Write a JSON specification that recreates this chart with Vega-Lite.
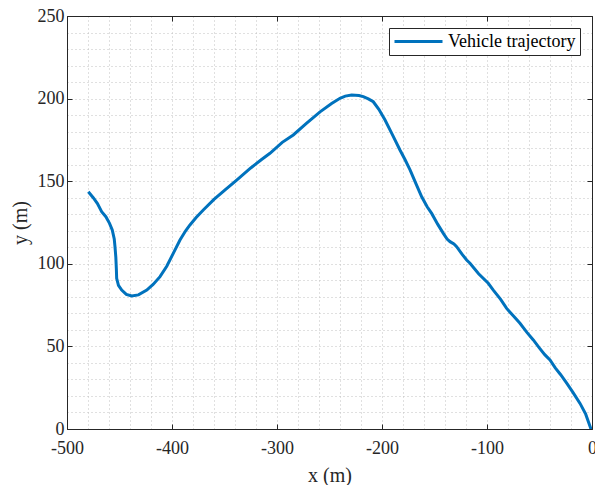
{
  "$schema": "https://vega.github.io/schema/vega-lite/v6.json",
  "width": 525,
  "height": 413,
  "autosize": {"type": "none"},
  "padding": {"left": 67, "top": 16, "right": 3, "bottom": 56},
  "background": "white",
  "config": {"font": "Liberation Serif", "view": {"stroke": null}},
  "data": {"values": [
    {"i":0,"x":-479.7,"y":143.6,"s":"Vehicle trajectory"},
    {"i":1,"x":-475,"y":140,"s":"Vehicle trajectory"},
    {"i":2,"x":-471,"y":136.5,"s":"Vehicle trajectory"},
    {"i":3,"x":-467,"y":131.5,"s":"Vehicle trajectory"},
    {"i":4,"x":-463,"y":128.5,"s":"Vehicle trajectory"},
    {"i":5,"x":-459.5,"y":124.5,"s":"Vehicle trajectory"},
    {"i":6,"x":-456.9,"y":120.5,"s":"Vehicle trajectory"},
    {"i":7,"x":-455,"y":115,"s":"Vehicle trajectory"},
    {"i":8,"x":-454.3,"y":110.4,"s":"Vehicle trajectory"},
    {"i":9,"x":-453.5,"y":104,"s":"Vehicle trajectory"},
    {"i":10,"x":-453,"y":97,"s":"Vehicle trajectory"},
    {"i":11,"x":-452.7,"y":91.2,"s":"Vehicle trajectory"},
    {"i":12,"x":-451,"y":87,"s":"Vehicle trajectory"},
    {"i":13,"x":-447.9,"y":84.1,"s":"Vehicle trajectory"},
    {"i":14,"x":-443.5,"y":81.5,"s":"Vehicle trajectory"},
    {"i":15,"x":-438.4,"y":80.5,"s":"Vehicle trajectory"},
    {"i":16,"x":-432,"y":81.2,"s":"Vehicle trajectory"},
    {"i":17,"x":-424,"y":84.1,"s":"Vehicle trajectory"},
    {"i":18,"x":-418,"y":87.5,"s":"Vehicle trajectory"},
    {"i":19,"x":-411.4,"y":92.2,"s":"Vehicle trajectory"},
    {"i":20,"x":-405,"y":98.5,"s":"Vehicle trajectory"},
    {"i":21,"x":-398.8,"y":106.3,"s":"Vehicle trajectory"},
    {"i":22,"x":-392.4,"y":114.4,"s":"Vehicle trajectory"},
    {"i":23,"x":-387,"y":120,"s":"Vehicle trajectory"},
    {"i":24,"x":-382.9,"y":123.5,"s":"Vehicle trajectory"},
    {"i":25,"x":-377,"y":128,"s":"Vehicle trajectory"},
    {"i":26,"x":-370.2,"y":132.6,"s":"Vehicle trajectory"},
    {"i":27,"x":-360,"y":139,"s":"Vehicle trajectory"},
    {"i":28,"x":-350,"y":144.5,"s":"Vehicle trajectory"},
    {"i":29,"x":-338.4,"y":150.7,"s":"Vehicle trajectory"},
    {"i":30,"x":-325,"y":158,"s":"Vehicle trajectory"},
    {"i":31,"x":-315,"y":163,"s":"Vehicle trajectory"},
    {"i":32,"x":-306.7,"y":166.9,"s":"Vehicle trajectory"},
    {"i":33,"x":-295,"y":173.5,"s":"Vehicle trajectory"},
    {"i":34,"x":-284.5,"y":178,"s":"Vehicle trajectory"},
    {"i":35,"x":-272,"y":185,"s":"Vehicle trajectory"},
    {"i":36,"x":-259,"y":192,"s":"Vehicle trajectory"},
    {"i":37,"x":-248,"y":197,"s":"Vehicle trajectory"},
    {"i":38,"x":-240,"y":200.2,"s":"Vehicle trajectory"},
    {"i":39,"x":-235,"y":201.5,"s":"Vehicle trajectory"},
    {"i":40,"x":-228.9,"y":202.2,"s":"Vehicle trajectory"},
    {"i":41,"x":-222,"y":201.9,"s":"Vehicle trajectory"},
    {"i":42,"x":-217.8,"y":201.2,"s":"Vehicle trajectory"},
    {"i":43,"x":-213,"y":199.8,"s":"Vehicle trajectory"},
    {"i":44,"x":-208.3,"y":198.1,"s":"Vehicle trajectory"},
    {"i":45,"x":-203,"y":193.5,"s":"Vehicle trajectory"},
    {"i":46,"x":-197.1,"y":187,"s":"Vehicle trajectory"},
    {"i":47,"x":-190,"y":178,"s":"Vehicle trajectory"},
    {"i":48,"x":-182.9,"y":168.9,"s":"Vehicle trajectory"},
    {"i":49,"x":-178,"y":163,"s":"Vehicle trajectory"},
    {"i":50,"x":-173.3,"y":156.8,"s":"Vehicle trajectory"},
    {"i":51,"x":-168,"y":149,"s":"Vehicle trajectory"},
    {"i":52,"x":-162.2,"y":140.6,"s":"Vehicle trajectory"},
    {"i":53,"x":-157,"y":134.5,"s":"Vehicle trajectory"},
    {"i":54,"x":-152.7,"y":130.5,"s":"Vehicle trajectory"},
    {"i":55,"x":-147,"y":124,"s":"Vehicle trajectory"},
    {"i":56,"x":-141.6,"y":118.4,"s":"Vehicle trajectory"},
    {"i":57,"x":-138,"y":115,"s":"Vehicle trajectory"},
    {"i":58,"x":-135.2,"y":113.4,"s":"Vehicle trajectory"},
    {"i":59,"x":-131.5,"y":112,"s":"Vehicle trajectory"},
    {"i":60,"x":-128.9,"y":110.4,"s":"Vehicle trajectory"},
    {"i":61,"x":-124,"y":106,"s":"Vehicle trajectory"},
    {"i":62,"x":-119.4,"y":102.3,"s":"Vehicle trajectory"},
    {"i":63,"x":-116.2,"y":100.3,"s":"Vehicle trajectory"},
    {"i":64,"x":-108,"y":94,"s":"Vehicle trajectory"},
    {"i":65,"x":-98.8,"y":88.2,"s":"Vehicle trajectory"},
    {"i":66,"x":-94,"y":84.1,"s":"Vehicle trajectory"},
    {"i":67,"x":-87,"y":78.5,"s":"Vehicle trajectory"},
    {"i":68,"x":-81.3,"y":73,"s":"Vehicle trajectory"},
    {"i":69,"x":-75,"y":68.5,"s":"Vehicle trajectory"},
    {"i":70,"x":-68.6,"y":64,"s":"Vehicle trajectory"},
    {"i":71,"x":-62,"y":58.5,"s":"Vehicle trajectory"},
    {"i":72,"x":-55.9,"y":53.9,"s":"Vehicle trajectory"},
    {"i":73,"x":-50,"y":49,"s":"Vehicle trajectory"},
    {"i":74,"x":-45,"y":45,"s":"Vehicle trajectory"},
    {"i":75,"x":-40,"y":41.8,"s":"Vehicle trajectory"},
    {"i":76,"x":-35,"y":37,"s":"Vehicle trajectory"},
    {"i":77,"x":-30,"y":33,"s":"Vehicle trajectory"},
    {"i":78,"x":-24.1,"y":27.7,"s":"Vehicle trajectory"},
    {"i":79,"x":-18,"y":22,"s":"Vehicle trajectory"},
    {"i":80,"x":-11.4,"y":15.5,"s":"Vehicle trajectory"},
    {"i":81,"x":-6,"y":9,"s":"Vehicle trajectory"},
    {"i":82,"x":-1.2,"y":0.4,"s":"Vehicle trajectory"},
    {"i":83,"x":0,"y":0,"s":"Vehicle trajectory"}
  ]},
  "layer": [
    {
      "mark": {"type": "line", "strokeWidth": 3, "clip": true},
      "encoding": {
        "x": {"field": "x", "type": "quantitative",
          "scale": {"domain": [-500, 0], "nice": false, "zero": false},
          "axis": {"orient": "bottom", "title": "x (m)",
            "values": [-500,-480,-460,-440,-420,-400,-380,-360,-340,-320,-300,-280,-260,-240,-220,-200,-180,-160,-140,-120,-100,-80,-60,-40,-20,0],
            "labelExpr": "datum.value % 100 === 0 ? '' + datum.value : ''",
            "labelOverlap": false, "labelFlush": false,
            "labelFontSize": 18, "labelColor": "#262626", "labelPadding": 15,
            "titleFontSize": 20, "titleFontWeight": "normal", "titleColor": "#262626", "titlePadding": 8,
            "domainColor": "#262626", "domainWidth": 1,
            "tickColor": "#262626", "tickSize": -5,
            "tickOpacity": {"condition": {"test": "datum.value % 100 === 0", "value": 1}, "value": 0},
            "grid": true, "gridColor": "#c0c0c0", "gridDash": [1, 3], "gridWidth": 1}
        },
        "y": {"field": "y", "type": "quantitative",
          "scale": {"domain": [0, 250], "nice": false},
          "axis": {"orient": "left", "title": "y (m)",
            "values": [0,10,20,30,40,50,60,70,80,90,100,110,120,130,140,150,160,170,180,190,200,210,220,230,240,250],
            "labelExpr": "datum.value % 50 === 0 ? '' + datum.value : ''",
            "labelOverlap": false, "labelFlush": false,
            "labelFontSize": 18, "labelColor": "#262626", "labelPadding": 8,
            "titleFontSize": 20, "titleFontWeight": "normal", "titleColor": "#262626", "titlePadding": 7,
            "domainColor": "#262626", "domainWidth": 1,
            "tickColor": "#262626", "tickSize": -5,
            "tickOpacity": {"condition": {"test": "datum.value % 50 === 0", "value": 1}, "value": 0},
            "grid": true, "gridColor": "#c0c0c0", "gridDash": [1, 3], "gridWidth": 1}
        },
        "order": {"field": "i", "type": "quantitative"},
        "color": {"field": "s", "type": "nominal",
          "scale": {"range": ["#0072BD"]},
          "legend": {"title": null, "orient": "top-right", "offset": 12,
            "strokeColor": "#262626", "fillColor": "white", "padding": 4,
            "symbolType": "M-1,0H5", "symbolSize": 256, "symbolStrokeWidth": 3,
            "labelFontSize": 18, "labelFont": "Liberation Serif", "labelColor": "#000000", "labelOffset": 36}
        }
      }
    },
    {
      "mark": {"type": "line", "opacity": 0},
      "encoding": {
        "x": {"field": "x", "type": "quantitative",
          "axis": {"orient": "top", "title": null, "labels": false,
            "values": [-500,-400,-300,-200,-100,0],
            "domainColor": "#262626", "domainWidth": 1,
            "tickColor": "#262626", "tickSize": -5, "grid": false}
        },
        "y": {"field": "y", "type": "quantitative",
          "axis": {"orient": "right", "title": null, "labels": false,
            "values": [0,50,100,150,200,250],
            "domainColor": "#262626", "domainWidth": 1,
            "tickColor": "#262626", "tickSize": -5, "grid": false}
        },
        "order": {"field": "i", "type": "quantitative"}
      }
    }
  ],
  "resolve": {"axis": {"x": "independent", "y": "independent"}}
}
